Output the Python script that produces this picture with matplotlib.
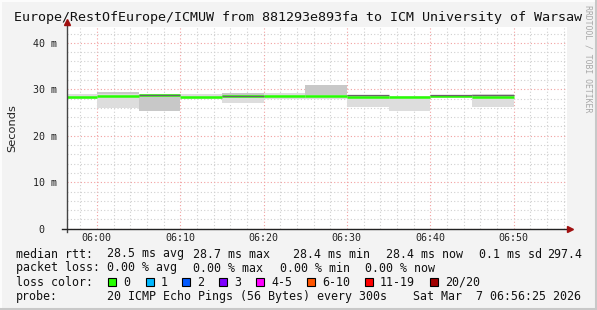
import numpy as np
import matplotlib
matplotlib.use('Agg')
import matplotlib.pyplot as plt
from matplotlib.patches import Rectangle
from matplotlib.lines import Line2D

# 5 minute steps, minutes after 06:00 (value covers the preceding 5 min)
times = np.array([0, 5, 10, 15, 20, 25, 30, 35, 40, 45, 50])
median = np.array([28.4, 28.5, 28.7, 28.4, 28.5, 28.5, 28.5, 28.4, 28.4, 28.6, 28.4])
# smoke layers in ms: light outer band, denser band, thin dark band
light_lo = np.array([28.0, 26.0, 28.8, 28.0, 27.1, 28.0, 28.0, 26.1, 25.3, 28.1, 26.1])
light_hi = np.array([28.9, 29.0, 28.9, 29.0, 28.6, 29.1, 28.8, 28.5, 28.6, 28.8, 29.0])
mid_lo = np.array([np.nan, 29.0, 25.4, np.nan, 28.6, np.nan, 28.8, np.nan, np.nan, np.nan, np.nan])
mid_hi = np.array([np.nan, 29.4, 28.8, np.nan, 29.1, np.nan, 30.9, np.nan, np.nan, np.nan, np.nan])
dark_val = np.array([np.nan, np.nan, 28.85, np.nan, 28.65, np.nan, np.nan, 28.7, np.nan, 28.75, 28.7])

xticks = [0, 10, 20, 30, 40, 50]
xlabels = ['06:00', '06:10', '06:20', '06:30', '06:40', '06:50']
yticks = [0, 10, 20, 30, 40]
ylabels = ['0  ', '10 m', '20 m', '30 m', '40 m']

loss_labels = ['0', '1', '2', '3', '4-5', '6-10', '11-19', '20/20']
loss_colors = ['#26ff00', '#00b8ff', '#0059ff', '#7e00ff', '#ff00ff', '#ff5500', '#ff0000', '#a10000']

W, H = 597, 310
mono = 'DejaVu Sans Mono'

fig = plt.figure(figsize=(W / 100, H / 100), dpi=100, facecolor='#f3f3f3')
ax = fig.add_axes([67 / W, (H - 228.7) / H, 500 / W, 201.7 / H], facecolor='white')

ax.set_xlim(-3.583, 56.417)
ax.set_ylim(0, 43.4)

# grid
ax.set_xticks(np.arange(-2, 57, 2), minor=True)
ax.set_yticks(np.arange(0, 44, 2), minor=True)
ax.grid(which='minor', color='#d0d0d0', linestyle=(0, (1, 2)), linewidth=0.8)
ax.grid(which='major', color='#f2a0a0', linestyle=(0, (1, 2)), linewidth=0.8)
ax.set_axisbelow(True)

# smoke
ax.bar(times - 5, light_hi - light_lo, bottom=light_lo, width=5, align='edge',
       color='#dddddd', linewidth=0, zorder=2)
ax.bar(times - 5, mid_hi - mid_lo, bottom=mid_lo, width=5, align='edge',
       color='#c8c8c8', linewidth=0, zorder=2)
# median
ax.hlines(median, times - 5, times, color='#26ff00', linewidth=1.8, zorder=3)
ax.hlines(dark_val, times - 5, times, color='#666666', linewidth=0.9, zorder=4)

for s in ax.spines.values():
    s.set_visible(False)

ax.set_xticks(xticks)
ax.set_xticklabels(xlabels, fontfamily=mono, fontsize=7.2, color='#222222')
ax.set_yticks(yticks)
ax.set_yticklabels(ylabels, fontfamily=mono, fontsize=7.2, color='#222222')
ax.tick_params(which='both', length=0)
ax.tick_params(axis='x', pad=3)
ax.tick_params(axis='y', pad=7)

# axes with arrows
ax.add_line(Line2D([0, 0], [-0.015, 1.02], transform=ax.transAxes, color='#444444',
                   linewidth=1.0, clip_on=False, zorder=5))
ax.add_line(Line2D([-0.01, 1.0], [0, 0], transform=ax.transAxes, color='#222222',
                   linewidth=1.0, clip_on=False, zorder=5))
ax.plot([0], [1.025], marker='^', markersize=5, color='#a01010', transform=ax.transAxes, clip_on=False, zorder=6)
ax.plot([1.006], [0], marker='>', markersize=5, color='#a01010', transform=ax.transAxes, clip_on=False, zorder=6)

ax.set_ylabel('Seconds', fontsize=8.2, color='#222222')
ax.yaxis.set_label_coords(-50 / 500, 0.5)

def px(x, y):
    return x / W, 1 - y / H

fig.text(*px(298.5, 18), 'Europe/RestOfEurope/ICMUW from 881293e893fa to ICM University of Warsaw',
         fontfamily=mono, fontsize=9.6, ha='center', va='center', color='#111111')
fig.text(*px(588, 5), 'RRDTOOL / TOBI OETIKER', fontfamily=mono, fontsize=5.9,
         rotation=-90, ha='center', va='top', color='#a8a8a8')

def txt(x, y, s):
    fig.text(*px(x, y), s, fontfamily=mono, fontsize=8.4, ha='left', va='center', color='#111111')

txt(16, 254, 'median rtt:')
txt(107, 254, '28.5 ms avg')
txt(193, 254, '28.7 ms max')
txt(293, 254, '28.4 ms min')
txt(386, 254, '28.4 ms now')
txt(479, 254, '0.1 ms sd')
txt(547, 254, '297.4')

txt(16, 268, 'packet loss:')
txt(107, 268, '0.00 % avg')
txt(193, 268, '0.00 % max')
txt(280.5, 268, '0.00 % min')
txt(365, 268, '0.00 % now')

txt(16, 282, 'loss color:')
box_x = [108, 146, 182, 219, 256, 307, 365, 430]
for bx, lab, col in zip(box_x, loss_labels, loss_colors):
    fig.patches.append(Rectangle(px(bx, 286), 8 / W, 8 / H, transform=fig.transFigure,
                                 facecolor=col, edgecolor='black', linewidth=0.8))
    txt(bx + 15, 282, lab)

txt(16, 296.5, 'probe:')
txt(107, 296.5, '20 ICMP Echo Pings (56 Bytes) every 300s')
txt(413, 296.5, 'Sat Mar  7 06:56:25 2026')

# frame
fig.add_artist(Line2D([0, 1], [1 - 1 / H, 1 - 1 / H], transform=fig.transFigure, color='#fcfcfc', linewidth=1.5))
fig.add_artist(Line2D([1 / W, 1 / W], [0, 1], transform=fig.transFigure, color='#fcfcfc', linewidth=1.5))
fig.add_artist(Line2D([0, 1], [1.5 / H, 1.5 / H], transform=fig.transFigure, color='#c8c8c8', linewidth=2.2))
fig.add_artist(Line2D([1 - 1.5 / W, 1 - 1.5 / W], [0, 1], transform=fig.transFigure, color='#c8c8c8', linewidth=2.2))

fig.savefig('out.png', dpi=100, facecolor=fig.get_facecolor())
